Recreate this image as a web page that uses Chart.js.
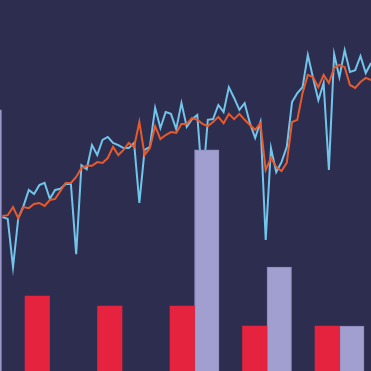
<!DOCTYPE html>
<html>
<head>
<meta charset="utf-8">
<script src="https://cdn.jsdelivr.net/npm/chart.js@4/dist/chart.umd.min.js"></script>
<style>
  html, body { margin: 0; padding: 0; background: #2d2e4f; }
  .layer { width: 371px; height: 371px; position: absolute; left: 0; top: 0; }
</style>
</head>
<body>
<div class="layer"><canvas id="lines"></canvas></div>
<div class="layer"><canvas id="bars"></canvas></div>
<script>
// monthly series (index 0..70)
const blueSeries = [
  41.5, 41.0, 28.0, 41.2, 44.5, 48.8, 47.7, 50.1, 50.7, 46.4, 48.8, 49.1,
  50.4, 50.4, 31.5, 55.5, 54.4, 60.9, 58.2, 62.3, 63.1, 61.5, 60.9, 60.1,
  60.1, 61.5, 45.3, 59.6, 60.4, 70.9, 65.5, 69.8, 69.3, 65.2, 72.2, 65.8,
  67.9, 69.0, 50.1, 67.7, 67.9, 71.7, 69.8, 76.5, 73.6, 70.4, 72.2, 66.8,
  62.8, 67.1, 35.3, 60.1, 53.6, 56.3, 60.4, 72.5, 74.9, 76.5, 85.2, 79.0,
  73.0, 77.6, 54.2, 85.4, 79.2, 86.5, 80.6, 81.1, 84.9, 80.3, 83.0
];
const orangeSeries = [
  41.8, 42.0, 44.2, 41.2, 44.2, 43.9, 45.0, 45.3, 44.5, 46.1, 46.4, 48.5,
  50.7, 50.7, 52.3, 54.7, 55.3, 55.3, 56.3, 56.1, 57.4, 60.4, 58.2, 59.6,
  61.5, 60.4, 67.1, 58.2, 60.1, 66.0, 62.5, 63.6, 64.4, 64.2, 66.6, 66.6,
  68.2, 67.7, 66.6, 66.0, 67.1, 68.5, 66.8, 69.3, 67.9, 69.3, 67.7, 66.3,
  65.0, 66.8, 54.2, 57.4, 55.0, 53.9, 56.1, 67.1, 67.7, 74.9, 79.8, 79.2,
  76.5, 79.8, 77.6, 81.7, 82.5, 81.9, 77.1, 76.3, 77.9, 79.0, 78.4
];

// bar groups
const barGroups = [-1, 0, 1, 2, 3, 4];
const redBars = [null, 20.2, 17.5, 17.5, 12.1, 12.1];
const lavenderBars = [70.4, 0, 0, 59.6, 28.0, 12.1];

const toPoints = arr => arr.map((v, i) => ({ x: i, y: v }));
const toBars = arr => arr.map((v, i) => ({ x: barGroups[i], y: v }));

const baseOptions = {
  responsive: true,
  maintainAspectRatio: false,
  animation: false,
  layout: { padding: 0 },
  plugins: { legend: { display: false }, tooltip: { enabled: false } }
};

// lines underneath
new Chart(document.getElementById('lines'), {
  type: 'line',
  data: {
    datasets: [
      {
        data: toPoints(orangeSeries),
        borderColor: '#e85a2c',
        borderWidth: 2,
        pointRadius: 0,
        tension: 0,
        order: 0
      },
      {
        data: toPoints(blueSeries),
        borderColor: '#72c4ea',
        borderWidth: 2,
        pointRadius: 0,
        tension: 0,
        order: 1
      }
    ]
  },
  options: {
    ...baseOptions,
    scales: {
      x: { type: 'linear', display: false, min: -0.47, max: 70 },
      y: { display: false, min: 0, max: 100 }
    }
  }
});

// bars on top
new Chart(document.getElementById('bars'), {
  type: 'bar',
  data: {
    datasets: [
      {
        data: toBars(redBars),
        backgroundColor: '#e5233f',
        borderWidth: 0,
        barThickness: 24.5
      },
      {
        data: toBars(lavenderBars),
        backgroundColor: '#a19fcf',
        borderColor: '#8c89bd',
        borderWidth: 1,
        barThickness: 24.5
      }
    ]
  },
  options: {
    ...baseOptions,
    scales: {
      x: { type: 'linear', display: false, offset: false, min: -0.683, max: 4.434 },
      y: { display: false, min: 0, max: 100 }
    }
  }
});
</script>
</body>
</html>
